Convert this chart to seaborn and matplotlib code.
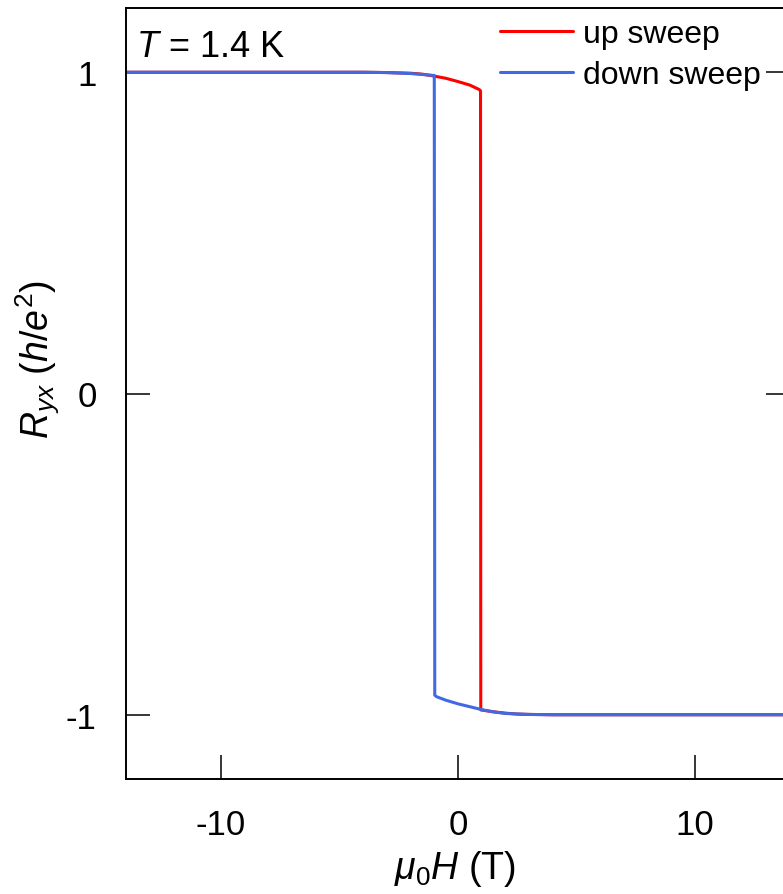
import matplotlib
matplotlib.use("Agg")
import matplotlib.pyplot as plt
import seaborn as sns
import pandas as pd

# ---- data ----
up_x = [-14, -10, -6, -4, -3, -2, -1.5, -1, -0.5, 0, 0.5, 0.9, 0.95, 0.96, 1.5, 2, 2.5, 3, 4, 6, 8, 10, 14]
up_y = [1.0, 1.0, 1.0, 1.0, 0.999, 0.997, 0.994, 0.988, 0.981, 0.971, 0.96, 0.946, 0.942, -0.985, -0.991, -0.995, -0.998, -0.999, -1.0, -1.0, -1.0, -1.0, -1.0]
down_x = [14, 10, 6, 4, 3, 2, 1.5, 1, 0.5, 0, -0.5, -0.9, -0.98, -1.0, -1.5, -2, -3, -4, -6, -10, -14]
down_y = [-1.0, -1.0, -1.0, -1.0, -0.999, -0.996, -0.991, -0.984, -0.975, -0.966, -0.955, -0.944, -0.939, 0.99, 0.993, 0.996, 0.999, 1.0, 1.0, 1.0, 1.0]
series_names = ["up sweep", "down sweep"]
series_colors = ["#ff0000", "#4169e1"]
x_ticks = [-10, 0, 10]
y_ticks = [-1, 0, 1]

df = pd.concat([
    pd.DataFrame({"H": up_x, "R": up_y, "sweep": series_names[0]}),
    pd.DataFrame({"H": down_x, "R": down_y, "sweep": series_names[1]}),
], ignore_index=True)

sns.set_style("ticks")
plt.rcParams["font.family"] = ["Liberation Sans", "DejaVu Sans"]
plt.rcParams["mathtext.fontset"] = "custom"
plt.rcParams["mathtext.rm"] = "Liberation Sans"
plt.rcParams["mathtext.it"] = "Liberation Sans:italic"
plt.rcParams["mathtext.bf"] = "Liberation Sans:bold"
plt.rcParams["axes.unicode_minus"] = False
plt.rcParams["text.color"] = "black"
plt.rcParams["axes.labelcolor"] = "black"
plt.rcParams["xtick.color"] = "black"
plt.rcParams["ytick.color"] = "black"

fig = plt.figure(figsize=(7.83, 8.95), dpi=100)
ax = fig.add_axes([126 / 783, 115 / 895, 664 / 783, 771 / 895])

sns.lineplot(data=df, x="H", y="R", hue="sweep", hue_order=series_names,
             palette=dict(zip(series_names, series_colors)), sort=False,
             estimator=None, linewidth=2.2, ax=ax)

ax.set_xlim(-14, 14)
ax.set_ylim(-1.2, 1.2)
ax.set_xticks(x_ticks)
ax.set_yticks(y_ticks)
ax.set_xticklabels([str(v) for v in x_ticks])
ax.set_yticklabels([str(v) for v in y_ticks])
ax.tick_params(direction="in", length=17, width=1.1, labelsize=25, pad=21,
               right=True, top=False, colors="black", labelcolor="black")
for s in ax.spines.values():
    s.set_linewidth(1.4)
    s.set_color("black")

ax.set_xlabel(r"$\mu_{\mathrm{0}}H$ (T)", fontsize=27, color="black")
ax.set_ylabel(r"$R_{yx}$ ($h/e^{\mathrm{2}}$)", fontsize=27, color="black")
ax.xaxis.set_label_coords(0.495, -0.089)
ax.yaxis.set_label_coords(-0.097, 0.545)

ax.text((136 - 126) / 664, (780 - 57) / 771, r"$T$ = 1.4 K", transform=ax.transAxes,
        fontsize=26, ha="left", va="baseline", color="black")

leg = ax.legend(frameon=False, loc="upper left", bbox_to_anchor=((500 - 126) / 664, (780 - 20) / 771),
                fontsize=23, borderpad=0, borderaxespad=0, handlelength=2.3,
                handletextpad=0.3, labelspacing=0.36)
for t in leg.get_texts():
    t.set_color("black")

fig.savefig("out.png", dpi=100)
